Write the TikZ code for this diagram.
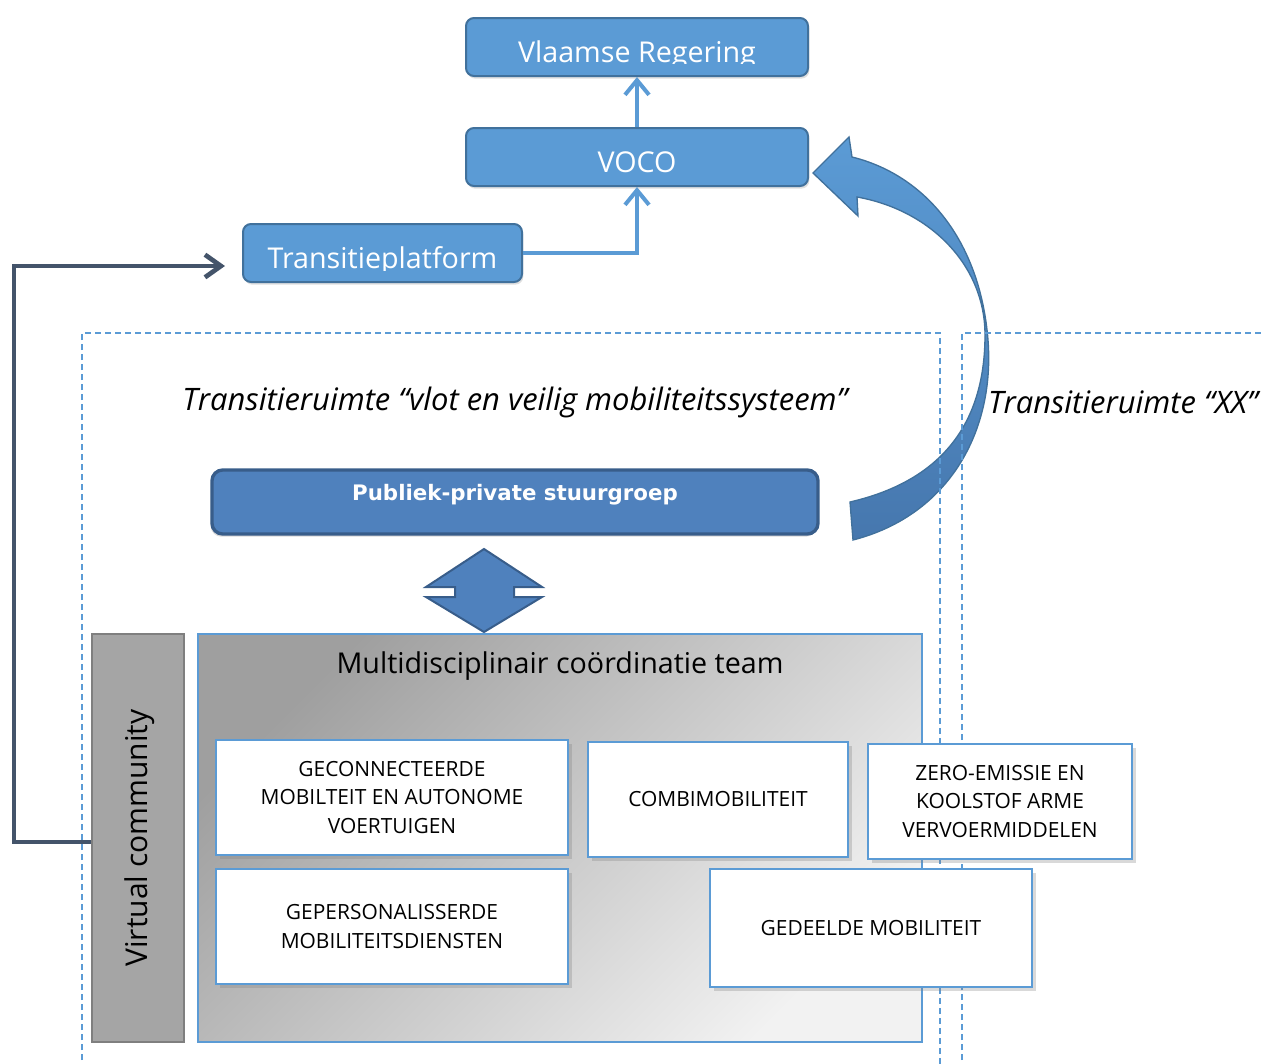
\documentclass[tikz,border=0pt]{standalone}
\usepackage{fontspec}
\setmainfont{Open Sans}
\newfontfamily\stuurfont{DejaVu Sans}
\usepackage{xcolor}
\usepackage{tikz}
\usetikzlibrary{arrows.meta,shadows,positioning,calc}

\definecolor{boxblue}{HTML}{5B9BD5}
\definecolor{boxline}{HTML}{41719C}
\definecolor{stuurblue}{HTML}{4F81BD}
\definecolor{stuurline}{HTML}{385D8A}
\definecolor{slate}{HTML}{44546A}
\definecolor{vcgray}{HTML}{A5A5A5}
\definecolor{vcline}{HTML}{7F7F7F}
\definecolor{arrowlow}{HTML}{4677AE}

\tikzstyle{topbox}=[draw=boxline, line width=1.5pt, fill=boxblue, rounded corners=6pt,
  minimum width=256.5pt, minimum height=43.5pt, text=white, font=\fontsize{21.5}{25}\selectfont,
  drop shadow={opacity=0.25, shadow xshift=1pt, shadow yshift=-2pt}]
\tikzstyle{toptext}=[text=white, font=\fontsize{21.5}{25}\selectfont, anchor=base, inner sep=0pt]
\tikzstyle{zone}=[draw=boxblue, line width=1.6pt, dash pattern=on 4.5pt off 3pt]
\tikzstyle{zonetext}=[font=\fontsize{23.2}{27}\selectfont\itshape]
\tikzstyle{theme}=[draw=boxblue, line width=1.5pt, fill=white, align=center,
  font=\fontsize{15.7}{21.4}\selectfont,
  drop shadow={opacity=0.3, shadow xshift=3pt, shadow yshift=-3pt}]
\tikzstyle{link}=[draw=boxblue, line width=3pt, -{Straight Barb[length=11pt, width=18pt, line width=3pt]}]
\tikzstyle{feedback}=[draw=slate, line width=3.5pt, -{Straight Barb[length=12pt, width=17pt, line width=3.5pt]}]

\begin{document}
\begin{tikzpicture}[x=0.75pt, y=-0.75pt]
\useasboundingbox (0,0) rectangle (1264,1064);

% bestuur
\node[topbox] (vlaamse) at (637,47) {};
\begin{scope}
  \clip (466,18) rectangle (808,63);
  \node[toptext] (vlaamsetext) at (637,62) {Vlaamse Regering};
\end{scope}
\node[topbox] (voco) at (637,157) {};
\node[toptext] (vocotext) at (637,172) {VOCO};
\node[topbox, minimum width=209.25pt] (platform) at (382.5,253) {};
\begin{scope}
  \clip (243,224) rectangle (522,270);
  \node[toptext] (platformtext) at (382.5,268) {Transitieplatform};
\end{scope}

\draw[link] (voco.north) -- (vlaamse.south);
\draw[link] (platform.east) -| (voco.south);

% curved arrow
\shadedraw[top color=boxblue, bottom color=arrowlow, draw=boxline, line width=1pt]
  (850,502) -- (853,540)
  .. controls (950,515) and (995,430) .. (988,340)
  .. controls (980,240) and (925,175) .. (852,157)
  -- (849,137) -- (813,173) -- (858,216) -- (857,197)
  .. controls (930,210) and (985,265) .. (985,335)
  .. controls (985,420) and (945,480) .. (850,502) -- cycle;

% transitieruimtes
\draw[zone] (82,1080) |- (940,333) -- (940,1080);
\draw[zone] (962,1080) |- (1280,333);
\node[zonetext] (ruimte) at (515,402) {Transitieruimte “vlot en veilig mobiliteitssysteem”};
\node[zonetext] (ruimtexx) at (1123,402) {Transitieruimte “XX”};

% stuurgroep
\node[draw=stuurline, line width=2.5pt, fill=stuurblue, rounded corners=8pt,
  minimum width=454.5pt, minimum height=48pt,
  drop shadow={opacity=0.3, shadow xshift=-1pt, shadow yshift=-2pt}] (stuur) at (515,502) {};
\node[text=white, font=\stuurfont\fontsize{16}{18}\selectfont\bfseries] (stuurtext) at (515,495) {Publiek-private stuurgroep};

\filldraw[fill=stuurblue, draw=stuurline, line width=1.5pt]
  (484,549) -- (542,587) -- (514,587) -- (514,597) -- (542,597) -- (484,632)
  -- (426,597) -- (455,597) -- (455,587) -- (426,587) -- cycle;

% team
\node[draw=boxblue, line width=1.5pt, top color=gray!75, bottom color=gray!10, shading angle=45,
  minimum width=543pt, minimum height=306pt] (team) at (560,838) {};
\node[font=\fontsize{21.5}{25}\selectfont] (teamtitle) at (560,666) {Multidisciplinair coördinatie team};
\node[draw=vcline, line width=1.5pt, fill=vcgray, minimum width=69pt, minimum height=306pt] (vc) at (138,838) {};
\node[rotate=90, font=\fontsize{22.5}{26}\selectfont] (vctext) at (140,838) {Virtual community};

\node[theme, minimum width=264pt, minimum height=86.25pt] (connect) at (392,797.5) {GECONNECTEERDE\\MOBILTEIT EN AUTONOME\\VOERTUIGEN};
\node[theme, minimum width=195pt, minimum height=86.25pt] (combi) at (718,799.5) {COMBIMOBILITEIT};
\node[theme, minimum width=198pt, minimum height=86.25pt] (zero) at (1000,801.5) {ZERO-EMISSIE EN\\KOOLSTOF ARME\\VERVOERMIDDELEN};
\node[theme, minimum width=264pt, minimum height=86.25pt] (perso) at (392,926.5) {GEPERSONALISSERDE\\MOBILITEITSDIENSTEN};
\node[theme, minimum width=241.5pt, minimum height=88.5pt] (gedeeld) at (871,928) {GEDEELDE MOBILITEIT};

% terugkoppeling
\coordinate (platformin) at (225,266);
\draw[feedback] ($(vc.west)+(0,4)$) -- (14,842) |- (platformin);

\end{tikzpicture}
\end{document}
